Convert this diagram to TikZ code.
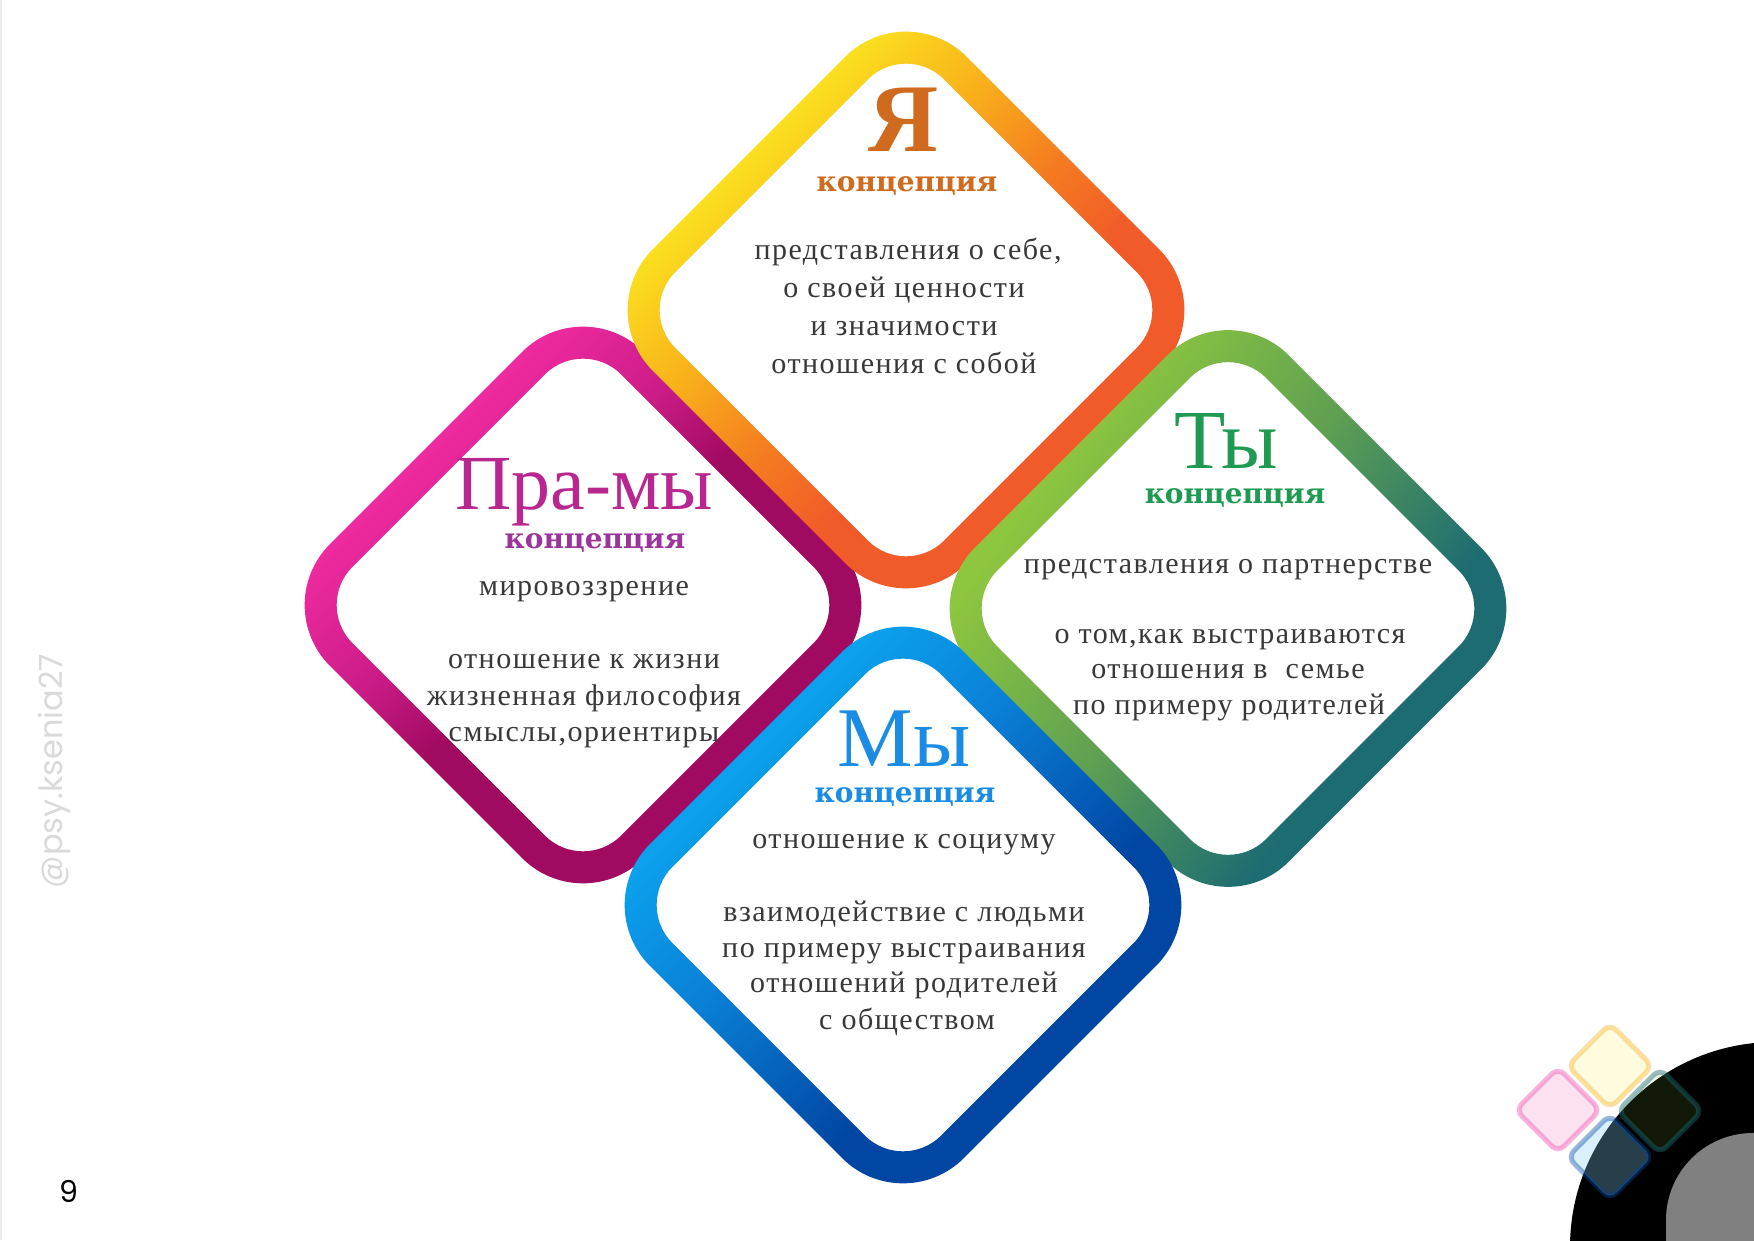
\documentclass[tikz,border=0pt]{standalone}
\usepackage{fontspec}
\setmainfont{Liberation Serif}
\newfontfamily\bodyf[LetterSpace=5.0]{Liberation Serif}
\newfontfamily\konf{DejaVu Serif}
\newfontfamily\sansf{Poppins}

\definecolor{yaY}{HTML}{FAE61F}
\definecolor{yaO1}{HTML}{F9B21B}
\definecolor{yaO2}{HTML}{F47C20}
\definecolor{yaR}{HTML}{F15A29}
\definecolor{prP}{HTML}{EF2BA0}
\definecolor{prM}{HTML}{CC1C88}
\definecolor{prD}{HTML}{A00A60}
\definecolor{tyG}{HTML}{8DC63F}
\definecolor{tyM}{HTML}{5FA052}
\definecolor{tyT}{HTML}{1C6C72}
\definecolor{myL}{HTML}{0BA3EE}
\definecolor{myM}{HTML}{0A80D6}
\definecolor{myD}{HTML}{0046A2}
\definecolor{yaText}{HTML}{CF6A1F}
\definecolor{prText}{HTML}{B8278F}
\definecolor{prKon}{HTML}{9C359B}
\definecolor{tyText}{HTML}{1F9A52}
\definecolor{myText}{HTML}{1B8CE3}
\definecolor{bodytxt}{HTML}{383838}
\definecolor{wmark}{HTML}{DADADA}
\definecolor{cornergray}{HTML}{808080}

\pgfdeclarehorizontalshading{shYa}{100bp}{color(0bp)=(yaY); color(31bp)=(yaY); color(41bp)=(yaO1); color(50bp)=(yaO2); color(58bp)=(yaR); color(100bp)=(yaR)}
\pgfdeclarehorizontalshading{shPr}{100bp}{color(0bp)=(prP); color(32bp)=(prP); color(42bp)=(prM); color(50bp)=(prD); color(100bp)=(prD)}
\pgfdeclarehorizontalshading{shTy}{100bp}{color(0bp)=(tyG); color(32bp)=(tyG); color(48bp)=(tyM); color(64bp)=(tyT); color(100bp)=(tyT)}
\pgfdeclarehorizontalshading{shMy}{100bp}{color(0bp)=(myL); color(32bp)=(myL); color(44bp)=(myM); color(60bp)=(myD); color(100bp)=(myD)}

% rounded diamond: centre x, centre y, sharp half-diagonal
\newcommand{\rdia}[3]{(#1-#3/2,#2+#3/2) -- (#1,#2+#3) -- (#1+#3,#2) -- (#1,#2-#3) -- (#1-#3,#2) -- cycle}

\begin{document}
\begin{tikzpicture}[x=1pt,y=1pt,
  bodytext/.style={font=\bodyf\fontsize{30}{36}\selectfont, text=bodytxt, anchor=base, inner sep=0pt},
  kon/.style={font=\konf\bfseries\fontsize{28}{28}\selectfont, anchor=base, inner sep=0pt},
  ttl/.style={anchor=base, inner sep=0pt},
  minidia/.style={line width=5pt, rounded corners=9pt},
]
\useasboundingbox (0,0) rectangle (1754,1240);
\fill[white] (0,0) rectangle (1754,1240);
\draw[black!8, line width=2pt] (1,0) -- (1,1240);

% rings
\shade[shading=shPr, shading angle=-45, even odd rule]
  [rounded corners=86pt] \rdia{583}{635}{313.96} [rounded corners=54pt] \rdia{583}{635}{268.70};
\shade[shading=shYa, shading angle=-45, even odd rule]
  [rounded corners=86pt] \rdia{906}{930}{313.96} [rounded corners=54pt] \rdia{906}{930}{268.70};
\shade[shading=shTy, shading angle=-35, even odd rule]
  [rounded corners=86pt] \rdia{1228}{631.5}{313.96} [rounded corners=54pt] \rdia{1228}{631.5}{268.70};
\shade[shading=shMy, shading angle=-45, even odd rule]
  [rounded corners=86pt] \rdia{903}{335}{313.96} [rounded corners=54pt] \rdia{903}{335}{268.70};

% Я
\node[ttl, text=yaText, font=\bfseries\fontsize{97}{97}\selectfont] (yaT) at (904,1088) {Я};
\node[kon, text=yaText] (yaK) at (907,1048) {концепция};
\node[bodytext] (ya1) at (908,980.5) {представления о себе,};
\node[bodytext] (ya2) at (904,942.5) {о своей ценности};
\node[bodytext] (ya3) at (904,904.5) {и значимости};
\node[bodytext] (ya4) at (904,866.5) {отношения с собой};

% Пра-мы
\node[ttl, text=prText, font=\fontsize{78}{78}\selectfont] (prT) at (584,730) {Пра-мы};
\node[kon, text=prKon] (prK) at (595,691) {концепция};
\node[bodytext] (pr1) at (584,644) {мировоззрение};
\node[bodytext] (pr2) at (584,571) {отношение к жизни};
\node[bodytext] (pr3) at (584,534) {жизненная философия};
\node[bodytext] (pr4) at (584,498) {смыслы,ориентиры};

% Ты
\node[ttl, text=tyText, font=\fontsize{84}{84}\selectfont] (tyT) at (1226,771) {Ты};
\node[kon, text=tyText] (tyK) at (1235,736) {концепция};
\node[bodytext] (ty1) at (1228,666) {представления о партнерстве};
\node[bodytext] (ty2) at (1230,596) {о том,как выстраиваются};
\node[bodytext] (ty3) at (1228,561) {отношения в~ семье};
\node[bodytext] (ty4) at (1229,525) {по примеру родителей};

% Мы
\node[ttl, text=myText, font=\fontsize{85}{85}\selectfont] (myT) at (904,473) {Мы};
\node[kon, text=myText] (myK) at (905,437) {концепция};
\node[bodytext] (my1) at (904,391) {отношение к социуму};
\node[bodytext] (my2) at (904,318) {взаимодействие с людьми};
\node[bodytext] (my3) at (904,282.5) {по примеру выстраивания};
\node[bodytext] (my4) at (904,247) {отношений родителей};
\node[bodytext] (my5) at (907,210) {с обществом};

% watermark and page number
\node[rotate=90, text=wmark, font=\sansf\fontsize{32}{32}\selectfont, inner sep=0pt] (wm) at (54,469) {@psy.ksenia27};
\node[font=\sansf\fontsize{30}{30}\selectfont, inner sep=0pt] (pg) at (69,49) {9};

% corner decoration
\begin{scope}
\clip (0,0) rectangle (1754,1240);
\fill[black, rounded corners=205pt] (1570,-400) rectangle (2200,198);
\fill[cornergray, rounded corners=87pt] (1666,-400) rectangle (2200,107);
\end{scope}

% mini logo
\fill[yaY!40, opacity=0.35] [rounded corners=9pt] \rdia{1610}{174}{42.4};
\draw[minidia, yaO1, opacity=0.4] \rdia{1610}{174}{42.4};
\fill[prP!40, opacity=0.35] [rounded corners=9pt] \rdia{1558}{130}{42.4};
\draw[minidia, prP, opacity=0.35] \rdia{1558}{130}{42.4};
\fill[tyG, opacity=0.12] [rounded corners=9pt] \rdia{1660}{129}{42.4};
\draw[minidia, tyT, opacity=0.45] \rdia{1660}{129}{42.4};
\fill[myL!50, opacity=0.3] [rounded corners=9pt] \rdia{1610}{83}{42.4};
\draw[minidia, myD, opacity=0.4] \rdia{1610}{83}{42.4};
\end{tikzpicture}
\end{document}
